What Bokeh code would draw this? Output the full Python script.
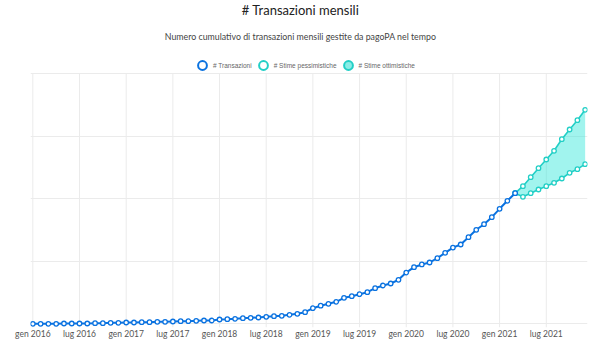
from bokeh.plotting import figure
from bokeh.models import Range1d, FixedTicker, Legend, LegendItem, ColumnDataSource, Label
from bokeh.embed import file_html
from bokeh.resources import INLINE

# month index 0 = gen 2016 ... 71 = dic 2021
tick_months = [0, 6, 12, 18, 24, 30, 36, 42, 48, 54, 60, 66]
tick_labels = ["gen 2016", "lug 2016", "gen 2017", "lug 2017", "gen 2018", "lug 2018",
               "gen 2019", "lug 2019", "gen 2020", "lug 2020", "gen 2021", "lug 2021"]

# cumulative transactions (arbitrary units, gridline every 100)
actual_months = list(range(0, 63))
actual = [0, 0, 0, 0, 0.5, 0.5, 0.5, 0.5, 1.0, 1.0, 1.6, 1.6, 2.1, 2.1, 2.6, 2.6, 3.2, 3.2,
          3.7, 4.2, 4.2, 4.8, 5.3, 5.3, 6.9, 7.4, 8.0, 9.0, 9.6, 10.1, 11.2, 12.2, 12.8, 14.4,
          16.0, 18.6, 25.0, 29.0, 32.0, 35.2, 41.6, 44.2, 47.4, 50.6, 57.0, 61.3, 64.5, 70.4,
          82.0, 90.6, 95.0, 98.1, 105.0, 113.6, 122.0, 126.9, 138.6, 150.4, 159.4, 170.6,
          184.0, 196.8, 209.0]

forecast_months = list(range(62, 72))
pessimistic = [209.0, 203.2, 209.0, 214.9, 220.2, 225.6, 232.5, 241.6, 247.4, 255.4]
optimistic = [209.0, 220.2, 234.6, 249.0, 262.9, 276.8, 295.4, 310.9, 325.8, 342.4]

y_ticks = [0, 100, 200, 300, 400]

TITLE = "# Transazioni mensili"
SUBTITLE = "Numero cumulativo di transazioni mensili gestite da pagoPA nel tempo"

BLUE = "#0A72E0"
CYAN = "#22CFC6"
FILL = "#2EE6DA"
GRID = "#ebebeb"

FRAME_H = 327
p = figure(width=592, height=FRAME_H + 20, output_backend="svg", toolbar_location=None,
           x_range=Range1d(-0.3, 71.3), y_range=Range1d(-5.9, 517.3),
           min_border_left=30, min_border_right=5, min_border_bottom=20, min_border_top=0)
p.outline_line_color = None
p.background_fill_color = "white"
p.border_fill_color = "white"

# vertical gridlines only up to the top horizontal gridline
p.xgrid.visible = False
p.segment(x0=tick_months, x1=tick_months, y0=[p.y_range.start] * len(tick_months),
          y1=[y_ticks[-1]] * len(tick_months), line_color=GRID, line_width=1)

src_a = ColumnDataSource(dict(x=actual_months, y=actual))
src_f = ColumnDataSource(dict(x=forecast_months, lo=pessimistic, hi=optimistic))

p.varea(x="x", y1="lo", y2="hi", source=src_f, fill_color=FILL, fill_alpha=0.45)
p.line(x="x", y="lo", source=src_f, line_color=CYAN, line_width=1.6)
p.line(x="x", y="hi", source=src_f, line_color=CYAN, line_width=1.6)
p.scatter(x="x", y="lo", source=src_f, size=4.5, marker="circle", fill_color="white",
          line_color=CYAN, line_width=1.3)
p.scatter(x="x", y="hi", source=src_f, size=4.5, marker="circle", fill_color="white",
          line_color=CYAN, line_width=1.3)
p.line(x="x", y="y", source=src_a, line_color=BLUE, line_width=2)
p.scatter(x="x", y="y", source=src_a, size=4.5, marker="circle", fill_color="white",
          line_color=BLUE, line_width=1.3)

# legend-only renderers (zero size in the plot; legend draws its own symbol size)
r1 = p.scatter(x="x", y="y", source=src_a, size=0, marker="circle", fill_color="white",
               fill_alpha=0, line_color=BLUE, line_width=2)
r2 = p.scatter(x="x", y="lo", source=src_f, size=0, marker="circle", fill_color="white",
               fill_alpha=0, line_color=CYAN, line_width=2)
r3 = p.scatter(x="x", y="hi", source=src_f, size=0, marker="circle", fill_color="#8AEDE6",
               line_color=CYAN, line_width=2)

legend = Legend(items=[LegendItem(label="# Transazioni", renderers=[r1]),
                       LegendItem(label="# Stime pessimistiche", renderers=[r2]),
                       LegendItem(label="# Stime ottimistiche", renderers=[r3])],
                orientation="horizontal", location=(161, 251),
                glyph_width=22, glyph_height=22, label_height=22,
                label_standoff=-3, spacing=-4, padding=0, margin=0,
                border_line_color=None, background_fill_alpha=0,
                label_text_font="Liberation Sans", label_text_font_size="6.5px",
                label_text_color="#666666")
p.add_layout(legend, "center")

# titles (inside the top of the frame, positioned in screen px)
p.add_layout(Label(x=270, y=FRAME_H - 9, x_units="screen", y_units="screen", text=TITLE,
                   text_align="center", text_baseline="middle", text_font="Lato",
                   text_font_size="13px", text_color="#222222"))
p.add_layout(Label(x=270, y=FRAME_H - 36, x_units="screen", y_units="screen", text=SUBTITLE,
                   text_align="center", text_baseline="middle", text_font="Lato",
                   text_font_size="8.8px", text_color="#444444"))

# axes
p.xaxis.ticker = FixedTicker(ticks=tick_months)
p.xaxis.major_label_overrides = {m: l for m, l in zip(tick_months, tick_labels)}
p.xaxis.axis_line_color = None
p.xaxis.major_tick_line_color = None
p.xaxis.minor_tick_line_color = None
p.xaxis.major_tick_out = 0
p.xaxis.major_tick_in = 0
p.xaxis.minor_tick_out = 0
p.xaxis.minor_tick_in = 0
p.xaxis.major_label_standoff = 1
p.xaxis.major_label_text_font = "Lato"
p.xaxis.major_label_text_font_size = "8.5px"
p.xaxis.major_label_text_color = "#555555"

p.yaxis.ticker = FixedTicker(ticks=y_ticks)
p.yaxis.visible = False
p.ygrid.ticker = FixedTicker(ticks=y_ticks)
p.ygrid.grid_line_color = GRID

open("out.html", "w").write(file_html(p, INLINE))
